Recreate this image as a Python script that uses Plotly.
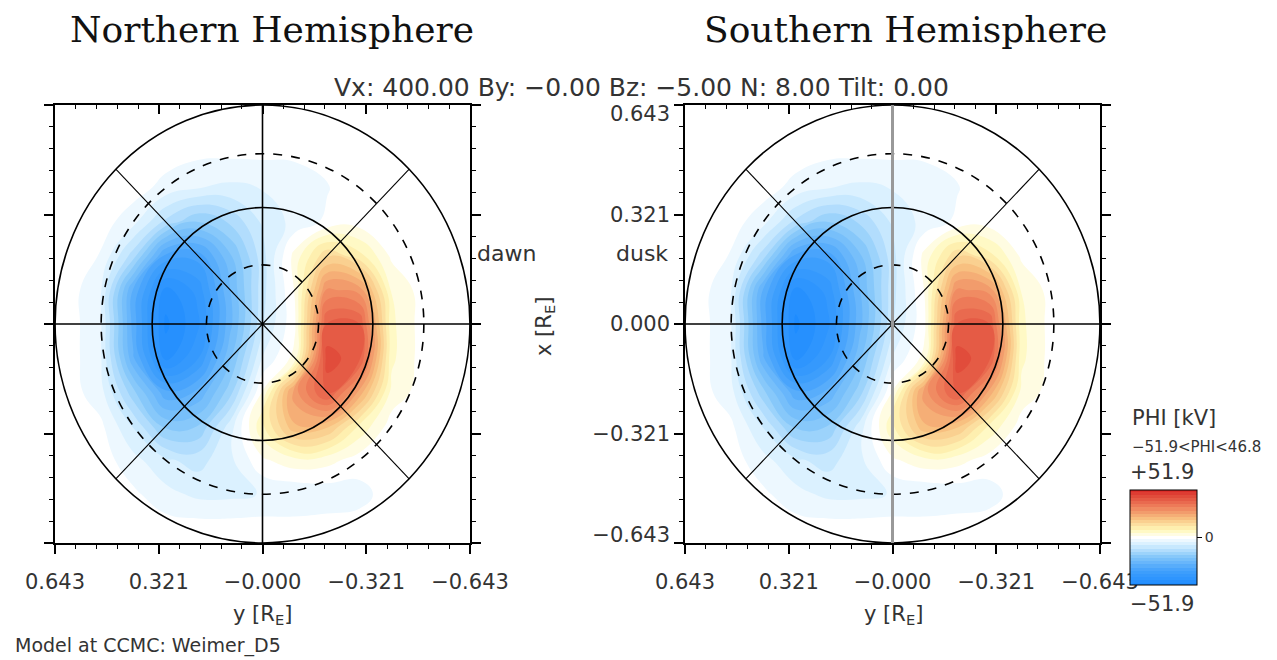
import numpy as np
import plotly.graph_objects as go

# ---------------- data ----------------
# horizontal grid: y [R_E] (left = +0.7 ... right = -0.7)
h_grid = [0.7, 0.6, 0.5, 0.4, 0.3, 0.2, 0.1, 0.0, -0.1, -0.2, -0.3, -0.4, -0.5, -0.6, -0.7]
# vertical grid: x [R_E] (top = +0.7 ... bottom = -0.7)
v_grid = [0.7, 0.6, 0.5, 0.4, 0.3, 0.2, 0.1, 0.0, -0.1, -0.2, -0.3, -0.4, -0.5, -0.6, -0.7]
# electric potential PHI [kV], rows top->bottom, columns left->right
phi_rows = [
    [0, 0, 0, 0, 0, 0, 0, 0, 0, 0, 0, 0, 0, 0, 0],
    [0, 0, 0, 0, 0, 0, 0, 0, 0, 0, 0, 0, 0, 0, 0],
    [0, 0, 0, 0, 0, -1, -1, -1, -1, 0, 0, 0, 0, 0, 0],
    [0, 0, 0, 0, -3, -5, -6, -5, -4, -2, 0, 0, 0, 0, 0],
    [0, 0, 0, -4, -13, -19, -15, -8, -4, -1, 0, 0, 0, 0, 0],
    [0, 0, -2, -14, -34, -35, -23, -10, 3, 15, 10, 1, 0, 0, 0],
    [0, 0, -5, -30, -48, -42, -26, -10, 2, 30, 28, 5, 0, 0, 0],
    [0, 0, -5, -31, -51, -44, -27, -9, 1, 40, 40, 6, 0, 0, 0],
    [0, 0, -5, -29, -48, -40, -23, -5, 3, 45, 41, 6, 0, 0, 0],
    [0, 0, -4, -18, -32, -29, -17, 2, 28, 41, 25, 4, 0, 0, 0],
    [0, 0, -1, -9, -20, -19, -7, 8, 22, 20, 8, 0, 0, 0, 0],
    [0, 0, 0, -4, -8, -10, -6, 1, 4, 3, 0, 0, 0, 0, 0],
    [0, 0, 0, -1, -4, -6, -6, -5, -5, -4, -3, 0, 0, 0, 0],
    [0, 0, 0, 0, 0, 0, 0, 0, 0, 0, 0, 0, 0, 0, 0],
    [0, 0, 0, 0, 0, 0, 0, 0, 0, 0, 0, 0, 0, 0, 0],
]
phi_scale = 51.9
phi_min, phi_max = -51.9, 46.8

circle_colat_deg = [10, 20, 30, 40]
circle_dashed = [True, False, True, False]
spoke_angles_deg = [45, 135, 225, 315]

axis_limit = 0.643
tick_vals = [0.643, 0.3215, 0.0, -0.3215, -0.643]
x_tick_text = ["0.643", "0.321", "\u22120.000", "\u22120.321", "\u22120.643"]
y_tick_text = ["0.643", "0.321", "0.000", "\u22120.321", "\u22120.643"]
y_label_vals = [0.617, 0.3215, 0.0, -0.3215, -0.619]   # where the y labels sit
minor_step = 0.0643

panel_titles = ["Northern Hemisphere", "Southern Hemisphere"]
params_text = "Vx: 400.00 By: \u22120.00 Bz: \u22125.00 N: 8.00 Tilt: 0.00"
model_text = "Model at CCMC: Weimer_D5"

# ---------------- figure ----------------
W, H = 1277, 660
def px(x):
    return x / W
def py(y):
    return 1 - y / H

h_arr = np.array(h_grid)[::-1]
v_arr = np.array(v_grid)[::-1]
z_arr = np.array(phi_rows, dtype=float)[::-1, ::-1]

colorscale = [
    [0.00, "rgb(30,140,255)"],
    [0.15, "rgb(65,160,252)"],
    [0.30, "rgb(135,200,250)"],
    [0.42, "rgb(212,238,255)"],
    [0.50, "rgb(255,255,255)"],
    [0.58, "rgb(255,248,185)"],
    [0.70, "rgb(248,192,128)"],
    [0.82, "rgb(238,128,92)"],
    [1.00, "rgb(218,45,40)"],
]

nlev = 30
size = 2 * phi_scale / nlev
fig = go.Figure()
for k, (xa, ya) in enumerate([("x", "y"), ("x2", "y2")]):
    tr = go.Contour(
        x=h_arr, y=v_arr, z=z_arr,
        colorscale=colorscale, zauto=False, zmin=-phi_scale, zmax=phi_scale,
        contours=dict(start=-phi_scale + size / 2, end=phi_scale - size / 2,
                      size=size, coloring="fill", showlines=False),
        line=dict(width=0, smoothing=1.3),
        xaxis=xa, yaxis=ya, hoverinfo="skip",
        showscale=(k == 1),
    )
    if k == 1:
        tr.colorbar = dict(
            x=px(1130), xanchor="left", y=py(537.5), yanchor="middle",
            len=95 / H, lenmode="fraction", thickness=67, thicknessmode="pixels",
            outlinewidth=1, outlinecolor="black",
            tickmode="array", tickvals=[0], ticktext=["0"],
            ticks="outside", ticklen=5, tickcolor="black",
            tickfont=dict(size=14, color="#333"), xpad=0, ypad=0,
        )
    fig.add_trace(tr)

shapes = []
for k, (xa, ya) in enumerate([("x", "y"), ("x2", "y2")]):
    for colat, dashed in zip(circle_colat_deg, circle_dashed):
        r = np.sin(np.radians(colat))
        shapes.append(dict(type="circle", xref=xa, yref=ya, x0=-r, x1=r, y0=-r, y1=r,
                           line=dict(color="black", width=1.6,
                                     dash="dash" if dashed else "solid")))
    r_out = np.sin(np.radians(max(circle_colat_deg)))
    for a in spoke_angles_deg:
        t = np.radians(a)
        shapes.append(dict(type="line", xref=xa, yref=ya, x0=0, y0=0,
                           x1=r_out * np.cos(t), y1=r_out * np.sin(t),
                           line=dict(color="black", width=1.1)))
    shapes.append(dict(type="line", xref=xa, yref=ya, x0=axis_limit, x1=-axis_limit, y0=0, y1=0,
                       line=dict(color="black", width=1.6)))
    shapes.append(dict(type="line", xref=xa, yref=ya, x0=0, x1=0, y0=-axis_limit, y1=axis_limit,
                       line=dict(color="black" if k == 0 else "#999999",
                                 width=1.6 if k == 0 else 3)))


def minor(direction):
    return dict(tickmode="linear", tick0=0, dtick=minor_step, ticks=direction,
                ticklen=4, tickwidth=1, tickcolor="black", showgrid=False)


def axis(domain, ticktext, showlabels, reverse, anchor, mirror):
    rng = [axis_limit, -axis_limit] if reverse else [-axis_limit, axis_limit]
    return dict(domain=domain, range=rng, anchor=anchor, showline=True, linecolor="black",
                linewidth=1.6, mirror=mirror, ticks="outside", ticklen=9, tickwidth=1.5,
                tickcolor="black", tickmode="array", tickvals=tick_vals, ticktext=ticktext,
                showticklabels=showlabels, showgrid=False, zeroline=False, fixedrange=True,
                automargin=False, tickfont=dict(size=21, color="#333"), ticklabelstandoff=10,
                minor=minor("outside"))


def top_ticks(overlay, anchor):
    return dict(overlaying=overlay, anchor=anchor, side="top", range=[axis_limit, -axis_limit],
                showline=False, ticks="inside", ticklen=9, tickwidth=1.5, tickcolor="black",
                tickmode="array", tickvals=tick_vals, showticklabels=False, showgrid=False,
                zeroline=False, fixedrange=True, automargin=False, minor=minor("inside"))


ydom = [py(543), py(105)]
fig.update_layout(
    width=W, height=H, margin=dict(l=0, r=0, t=0, b=0),
    paper_bgcolor="white", plot_bgcolor="white", showlegend=False,
    font=dict(family="DejaVu Sans", color="#333"),
    xaxis=axis([px(55), px(470)], x_tick_text, True, True, "y", True),
    yaxis=axis(ydom, y_tick_text, False, False, "x", "ticks"),
    xaxis2=axis([px(685), px(1100)], x_tick_text, True, True, "y2", True),
    yaxis2=axis(ydom, y_tick_text, False, False, "x2", "ticks"),
    xaxis3=top_ticks("x", "y"),
    xaxis4=top_ticks("x2", "y2"),
    # label-only axis for the southern panel's x [R_E] tick labels
    yaxis3=dict(domain=ydom, range=[-axis_limit, axis_limit], overlaying="y2", anchor="x2",
                side="left", showline=False, ticks="", showgrid=False, zeroline=False,
                tickmode="array", tickvals=y_label_vals, ticktext=y_tick_text,
                tickfont=dict(size=21, color="#333"), ticklabelstandoff=14,
                fixedrange=True, automargin=False),
    shapes=shapes,
)
# invisible traces so the overlay axes are drawn
for xa, ya in [("x2", "y3"), ("x3", "y"), ("x4", "y2")]:
    fig.add_trace(go.Scatter(x=[0], y=[0], xaxis=xa, yaxis=ya, mode="markers",
                             marker=dict(size=0.1, opacity=0), hoverinfo="skip",
                             showlegend=False))

ann = []
def text(x, y, s, size, xanchor="center", family="DejaVu Sans", angle=0, color="#333"):
    ann.append(dict(x=px(x), y=py(y), xref="paper", yref="paper", text=s, showarrow=False,
                    xanchor=xanchor, yanchor="middle", textangle=angle,
                    font=dict(family=family, size=size, color=color)))

text(272, 30, panel_titles[0], 36, family="DejaVu Serif", color="#111")
text(905, 30, panel_titles[1], 36, family="DejaVu Serif", color="#111")
text(332, 88, params_text, 25, xanchor="left")
text(475, 254, "dawn", 22, xanchor="left")
text(670, 254, "dusk", 22, xanchor="right")
text(545, 327, "x [R<sub>E</sub>]", 21, angle=-90)
text(262, 615, "y [R<sub>E</sub>]", 21)
text(893, 615, "y [R<sub>E</sub>]", 21)
text(13, 645, model_text, 19, xanchor="left")
text(1130, 418, "PHI [kV]", 21, xanchor="left")
text(1130, 447, f"\u2212{abs(phi_min):.1f}<PHI<{phi_max:.1f}", 15, xanchor="left")
text(1128, 472, f"+{phi_scale:.1f}", 21, xanchor="left")
text(1128, 604, f"\u2212{phi_scale:.1f}", 21, xanchor="left")
fig.update_layout(annotations=ann)

fig.write_html("out.html", config={"displayModeBar": False},
               post_script="document.body.style.margin='0px';document.body.style.overflow='hidden';")
